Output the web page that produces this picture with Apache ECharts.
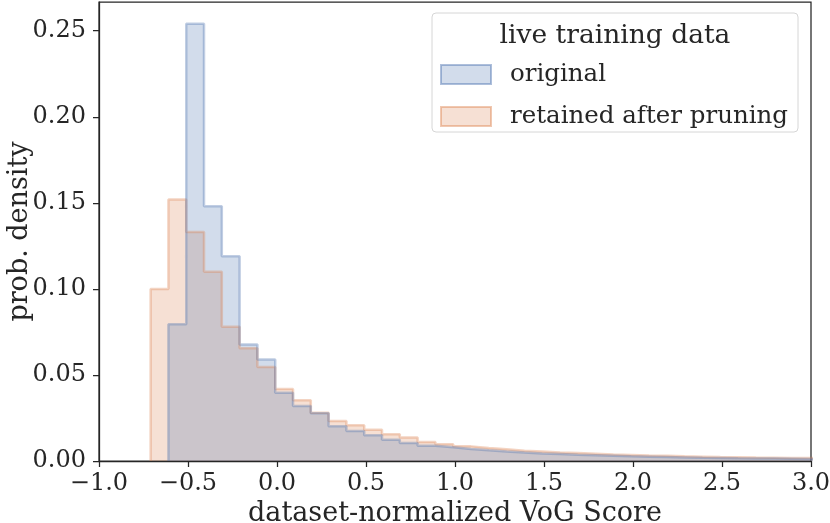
<!DOCTYPE html>
<html>
<head>
<meta charset="utf-8">
<script src="https://cdn.jsdelivr.net/npm/echarts@6/dist/echarts.min.js"></script>
<style>
  html, body { margin: 0; padding: 0; background: #fff; }
  #chart { width: 830px; height: 523px; }
</style>
</head>
<body>
<div id="chart"></div>
<script>
// bin edges of the histogram (width 0.1)
var binEdges = [-0.71, -0.61, -0.51, -0.41, -0.31, -0.21, -0.11, -0.01, 0.09, 0.19,
    0.29, 0.39, 0.49, 0.59, 0.69, 0.79, 0.89, 0.99, 1.09, 1.19,
    1.29, 1.39, 1.49, 1.59, 1.69, 1.79, 1.89, 1.99, 2.09, 2.19,
    2.29, 2.39, 2.49, 2.59, 2.69, 2.79, 2.89, 2.99, 3.09];

// density per bin, retained set starts at the first edge
var retained = [0.100, 0.152, 0.133, 0.110, 0.078, 0.0655, 0.0546, 0.0418, 0.0353, 0.0281,
    0.0233, 0.0207, 0.0182, 0.0155, 0.0136, 0.0110, 0.0097, 0.0085, 0.0076, 0.0068,
    0.0060, 0.0055, 0.0050, 0.0046, 0.0042, 0.0038, 0.0035, 0.0032, 0.0030, 0.0027,
    0.0025, 0.0023, 0.0022, 0.0020, 0.0019, 0.0018, 0.0017, 0.0016];

// original set starts one bin later (-0.61)
var original = [0.0795, 0.254, 0.148, 0.119, 0.0677, 0.059, 0.0397, 0.032, 0.0277,
    0.0202, 0.0174, 0.0149, 0.0124, 0.0105, 0.0089, 0.0080, 0.0070, 0.0062, 0.0055,
    0.0049, 0.0044, 0.0040, 0.0036, 0.0033, 0.0030, 0.0027, 0.0025, 0.0023, 0.0021,
    0.0019, 0.0018, 0.0016, 0.0015, 0.0014, 0.0013, 0.0012, 0.0012];

var yTicks = [0, 0.05, 0.10, 0.15, 0.20, 0.25];
var xTicks = [-1.0, -0.5, 0.0, 0.5, 1.0, 1.5, 2.0, 2.5, 3.0];

var FONT = 'DejaVu Serif';
var INK = '#262626';

function stepData(edges, vals) {
    var pts = [[edges[0], 0]];
    for (let i = 0; i < vals.length; i++) {
        pts.push([edges[i], vals[i]]);
    }
    pts.push([edges[vals.length], vals[vals.length - 1]]);
    pts.push([edges[vals.length], 0]);
    return pts;
}

function fmtX(v) {
    var s = Math.abs(v).toFixed(1);
    return v < 0 ? '\u2212' + s : s;
}

var myChart = echarts.init(document.getElementById('chart'));

var option = {
    animation: false,
    backgroundColor: '#fff',
    grid: {
        left: 99, right: 19, top: 2, bottom: 62,
        outerBoundsMode: 'none',
        show: true, borderColor: INK, borderWidth: 1.25, backgroundColor: 'transparent'
    },
    xAxis: {
        type: 'value',
        min: -1, max: 3, interval: 0.5,
        name: 'dataset-normalized VoG Score',
        nameLocation: 'middle', nameGap: 34,
        nameTextStyle: { fontFamily: FONT, fontSize: 27, color: INK },
        axisLine: { onZero: false, lineStyle: { color: INK, width: 1.25 } },
        axisTick: { length: 6, lineStyle: { color: INK, width: 1.25 }, customValues: xTicks },
        axisLabel: { fontFamily: FONT, fontSize: 24, color: INK, margin: 11,
            customValues: xTicks, formatter: fmtX },
        splitLine: { show: false }
    },
    yAxis: {
        type: 'value',
        min: 0, max: 0.2667,
        name: 'prob. density',
        nameLocation: 'middle', nameGap: 66, nameMoveOverlap: false,
        nameTextStyle: { fontFamily: FONT, fontSize: 27, color: INK },
        axisLine: { show: true, onZero: false, lineStyle: { color: INK, width: 1.25 } },
        axisTick: { show: true, length: 6, lineStyle: { color: INK, width: 1.25 }, customValues: yTicks },
        axisLabel: { fontFamily: FONT, fontSize: 24, color: INK, margin: 13,
            customValues: yTicks, formatter: function (v) { return v.toFixed(2); } },
        splitLine: { show: false }
    },
    legend: {
        orient: 'vertical',
        left: 440, top: 62, padding: 0,
        itemWidth: 50, itemHeight: 19, itemGap: 17,
        textStyle: { fontFamily: FONT, fontSize: 24.5, color: INK, lineHeight: 20,
            padding: [0, 0, 0, 14] },
        data: [
            { name: 'original', icon: 'rect',
              itemStyle: { color: 'rgba(76,114,176,0.25)', borderColor: 'rgba(76,114,176,0.45)', borderWidth: 2 } },
            { name: 'retained after pruning', icon: 'rect',
              itemStyle: { color: 'rgba(221,132,82,0.25)', borderColor: 'rgba(221,132,82,0.45)', borderWidth: 2 } }
        ]
    },
    graphic: [
        {
            type: 'rect', z: -1,
            shape: { x: 432, y: 13, width: 366, height: 119, r: 4 },
            style: { fill: 'rgba(255,255,255,0.8)', stroke: '#d6d6d6', lineWidth: 1 }
        },
        {
            type: 'text',
            x: 615, y: 36,
            style: { text: 'live training data', font: '26.5px "DejaVu Serif"', fill: INK,
                align: 'center', verticalAlign: 'middle' }
        }
    ],
    series: [
        {
            name: 'retained after pruning',
            type: 'line', step: 'end', symbol: 'none',
            data: stepData(binEdges, retained),
            lineStyle: { color: 'rgba(221,132,82,0.35)', width: 2.5 },
            itemStyle: { color: 'rgba(221,132,82,0.35)' },
            areaStyle: { color: 'rgba(221,132,82,0.25)', opacity: 1 }
        },
        {
            name: 'original',
            type: 'line', step: 'end', symbol: 'none',
            data: stepData(binEdges.slice(1), original),
            lineStyle: { color: 'rgba(76,114,176,0.35)', width: 2.5 },
            itemStyle: { color: 'rgba(76,114,176,0.35)' },
            areaStyle: { color: 'rgba(76,114,176,0.25)', opacity: 1 }
        }
    ]
};

myChart.setOption(option);
</script>
</body>
</html>
